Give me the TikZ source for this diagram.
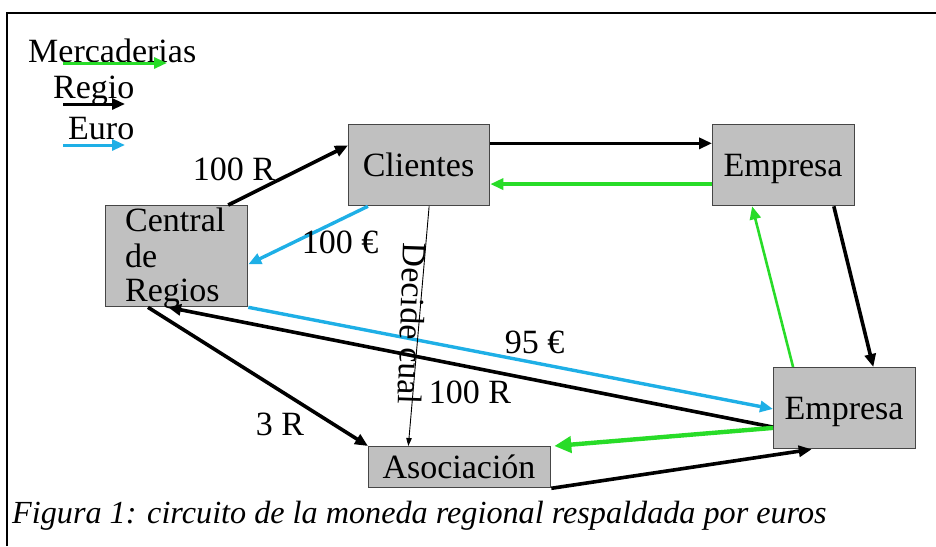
\documentclass[tikz,border=0pt]{standalone}
\usepackage{fontspec}
\setmainfont{Liberation Serif}
\usetikzlibrary{arrows.meta,calc}
\definecolor{boxfill}{RGB}{192,192,192}
\definecolor{boxline}{RGB}{70,70,70}
\definecolor{mgreen}{RGB}{40,220,40}
\definecolor{mblue}{RGB}{30,175,230}
\begin{document}
\begin{tikzpicture}[x=1pt,y=-1pt,
  box/.style={draw=boxline, line width=1.3pt, fill=boxfill, inner sep=0pt, anchor=north west},
  lbl/.style={font=\fontsize{34}{38}\selectfont, inner sep=0pt},
  flow/.style={line width=3.6pt, -{Triangle[length=13pt,width=11pt]}},
  thinflow/.style={line width=0.9pt, -{Triangle[length=8pt,width=5.5pt]}},
]
\useasboundingbox (0,0) rectangle (936,546);
% frame
\draw[line width=1.4pt] (7,546) -- (7,13) -- (936,13);

% boxes
\node[box, minimum width=142pt, minimum height=101pt] (cr) at (105,205) {};
\node[box, minimum width=141pt, minimum height=81pt] (cl) at (348,124) {};
\node[box, minimum width=142pt, minimum height=81pt] (e1) at (712,124) {};
\node[box, minimum width=142pt, minimum height=81pt] (e2) at (773,367) {};
\node[box, minimum width=182pt, minimum height=41pt] (as) at (368,446) {};

% box texts
\node[lbl, anchor=base] (clT) at (418.5,176) {Clientes};
\node[lbl, anchor=base] (e1T) at (783,176) {Empresa};
\node[lbl, anchor=base] (e2T) at (844,419) {Empresa};
\node[lbl, anchor=base] (asT) at (459,478) {Asociación};
\node[lbl, anchor=base west] (crT1) at (125,231) {Central};
\node[lbl, anchor=base west] (crT2) at (125,267) {de};
\node[lbl, anchor=base west] (crT3) at (125,301) {Regios};

% legend
\node[lbl, anchor=base west] (lgM) at (28,62) {Mercaderias};
\node[lbl, anchor=base west] (lgR) at (53,98) {Regio};
\node[lbl, anchor=base west] (lgE) at (68,139) {Euro};
\coordinate (gA) at (63,63);  \coordinate (gB) at (167,63);
\coordinate (rA) at (63,104); \coordinate (rB) at (125,104);
\coordinate (bA) at (63,145); \coordinate (bB) at (125,145);
\draw[flow, mgreen, line width=3pt] (gA) -- (gB);
\draw[flow, black, line width=3pt] (rA) -- (rB);
\draw[flow, mblue, line width=3pt] (bA) -- (bB);

% connectors
\draw[flow] ($(cr.north west)!0.86!(cr.north east)$) -- ($(cl.north west)!0.26!(cl.south west)$);
\draw[flow, mblue, line width=3.4pt] ($(cl.south west)!0.14!(cl.south east)$) -- ($(cr.north east)!0.58!(cr.south east)$);
\draw[flow] ($(cl.north east)!0.235!(cl.south east)$) -- ($(e1.north west)!0.235!(e1.south west)$);
\draw[flow, mgreen, line width=3.4pt] ($(e1.north west)!0.73!(e1.south west)$) -- ($(cl.north east)!0.73!(cl.south east)$);
\draw[flow, mgreen, line width=2.6pt] ($(e2.north west)!0.14!(e2.north east)$) -- ($(e1.south west)!0.28!(e1.south east)$);
\draw[flow] ($(e1.south west)!0.85!(e1.south east)$) -- ($(e2.north west)!0.70!(e2.north east)$);
\draw[flow, mblue, line width=3.4pt] (cr.south east) -- ($(e2.north west)!0.51!(e2.south west)$);
\draw[flow] ($(e2.north west)!0.73!(e2.south west)$) -- ($(cr.south west)!0.44!(cr.south east)$);
\draw[mgreen, line width=4.4pt, -{Triangle[length=17pt,width=16pt]}] ($(e2.north west)!0.74!(e2.south west)$) -- ($(as.north east)+(3,0)$);
\draw[flow] (as.south east) -- ($(e2.south west)!0.27!(e2.south east)$);
\draw[flow] ($(cr.south west)!0.30!(cr.south east)$) -- (as.north west);
\draw[thinflow] ($(cl.south west)!0.57!(cl.south east)$) -- ($(as.north west)!0.22!(as.north east)$);

% labels
\node[lbl, anchor=base] (l100Ra) at (234,180) {100 R};
\node[lbl, anchor=base] (l100E) at (340,253) {100 €};
\node[lbl, anchor=base] (l95E) at (534.5,353) {95 €};
\node[lbl, anchor=base] (l100Rb) at (470,403) {100 R};
\node[lbl, anchor=base] (l3R) at (280,435) {3 R};
\node[lbl, rotate=-92] (ldc) at (412.5,324) {Decide cual};

% caption
\node[anchor=base west, inner sep=0pt, font=\itshape\fontsize{32.2}{38}\selectfont] (cap) at (12,523) {Figura 1: circuito de la moneda regional respaldada por euros};
\end{tikzpicture}
\end{document}
